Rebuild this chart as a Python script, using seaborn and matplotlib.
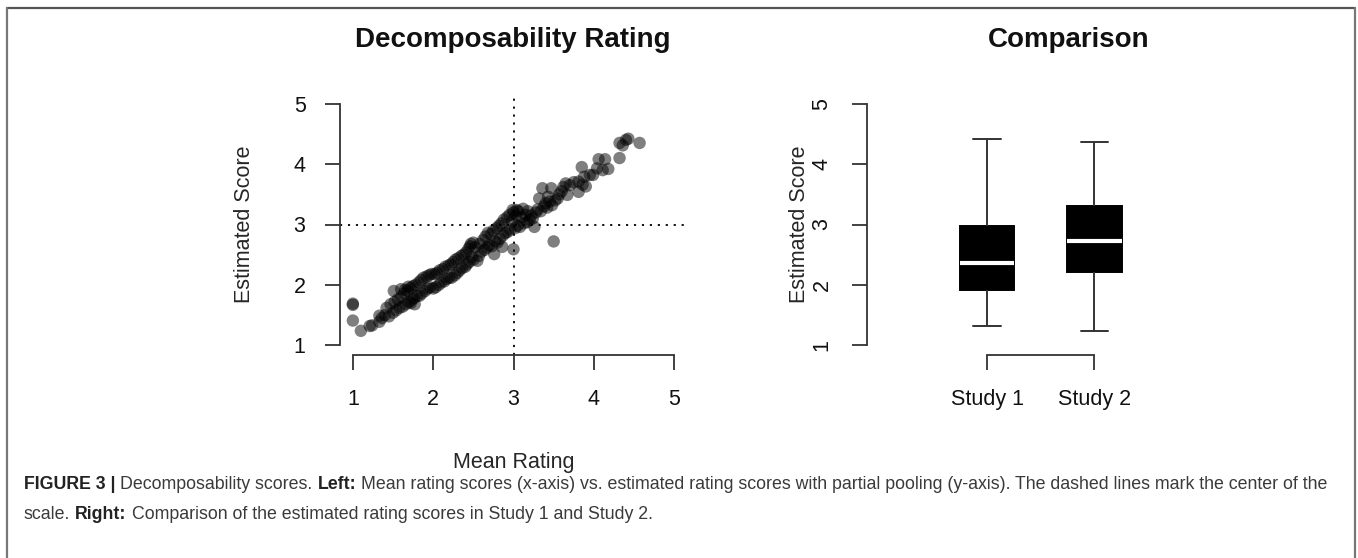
import matplotlib
matplotlib.use("Agg")
import matplotlib.pyplot as plt
from matplotlib.lines import Line2D
import pandas as pd
import seaborn as sns

# Mean rating (x) and partially pooled estimated score (y) per item
mean_rating = [
    1.00, 1.00, 1.00, 1.10, 1.21, 1.24, 1.33, 1.33, 1.36, 1.40,
    1.42, 1.45, 1.47, 1.50, 1.52, 1.54, 1.56, 1.58, 1.60,
    1.51, 1.60, 1.65, 1.69, 1.77, 1.72,
    1.62, 1.64, 1.66, 1.68, 1.70, 1.72, 1.74, 1.75, 1.76, 1.78, 1.80,
    1.82, 1.83, 1.85, 1.86, 1.88, 1.90, 1.92, 1.93, 1.95, 1.96, 1.98, 2.00,
    2.02, 2.03, 2.05, 2.07, 2.08, 2.10, 2.12, 2.14, 2.15, 2.17, 2.19, 2.20,
    2.22, 2.23, 2.25, 2.27, 2.28, 2.30, 2.31, 2.33, 2.35, 2.36, 2.38, 2.40,
    2.41, 2.42, 2.44, 2.45, 2.46, 2.47, 2.48, 2.50, 2.50, 2.52, 2.55, 2.57, 2.58,
    2.60, 2.62, 2.64, 2.65, 2.67, 2.68, 2.70, 2.72, 2.73, 2.75, 2.76, 2.77, 2.79,
    2.80, 2.82, 2.83, 2.85, 2.86, 2.87, 2.88, 2.90, 2.92, 2.93, 2.95, 2.96, 2.98, 3.00, 3.00,
    3.02, 3.03, 3.05, 3.06, 3.08, 3.10, 3.12, 3.13, 3.15, 3.17, 3.18, 3.20, 2.99, 3.04,
    3.22, 3.24, 3.26, 3.28, 3.30, 3.32, 3.34, 3.36, 3.38, 3.40, 3.42, 3.43, 3.45,
    3.47, 3.48, 3.50, 3.52, 3.55, 3.57,
    3.60, 3.62, 3.65, 3.67, 3.70, 3.75, 3.81, 3.81, 3.85, 3.86, 3.88, 3.90, 3.95,
    3.99, 4.04, 4.06, 4.11, 4.14, 4.18, 4.32, 4.32, 4.36, 4.43, 4.40, 4.57,
]
estimated_score = [
    1.69, 1.67, 1.41, 1.24, 1.32, 1.33, 1.39, 1.49, 1.45, 1.50,
    1.62, 1.48, 1.68, 1.54, 1.72, 1.58, 1.76, 1.62, 1.80,
    1.90, 1.93, 1.92, 1.97, 1.68, 1.70,
    1.64, 1.86, 1.68, 1.90, 1.72, 1.95, 1.76, 1.98, 1.78, 2.00, 1.82,
    2.04, 1.82, 2.08, 1.86, 2.12, 1.90, 2.14, 1.94, 2.16, 1.96, 2.18, 1.94,
    2.18, 1.96, 2.20, 2.00, 2.24, 2.04, 2.26, 2.06, 2.30, 2.10, 2.32, 2.12,
    2.34, 2.12, 2.38, 2.16, 2.42, 2.20, 2.44, 2.24, 2.48, 2.28, 2.50, 2.30,
    2.54, 2.34, 2.60, 2.38, 2.64, 2.68, 2.46, 2.70, 2.42, 2.62, 2.40, 2.48, 2.68,
    2.55, 2.74, 2.58, 2.80, 2.62, 2.86, 2.66, 2.84, 2.64, 2.90, 2.51, 2.72, 2.94,
    2.70, 2.98, 2.76, 3.02, 2.63, 2.82, 3.08, 2.86, 3.12, 2.88, 3.16, 2.92, 3.06, 2.59, 3.20,
    2.94, 3.14, 2.98, 3.22, 2.96, 3.12, 3.26, 3.02, 3.16, 3.04, 3.22, 3.08, 3.24, 3.24,
    3.15, 3.10, 2.96, 3.20, 3.25, 3.43, 3.22, 3.60, 3.30, 3.35, 3.28, 3.46, 3.38,
    3.60, 3.32, 2.72, 3.40, 3.43, 3.50,
    3.55, 3.62, 3.68, 3.49, 3.65, 3.70, 3.54, 3.71, 3.95, 3.66, 3.79, 3.63, 3.82,
    3.82, 3.93, 4.08, 3.90, 4.08, 3.92, 4.10, 4.35, 4.31, 4.42, 4.40, 4.35,
]

# Five-number summaries of the estimated scores per study
studies = ["Study 1", "Study 2"]
study1_scores = [1.32, 1.92, 2.36, 2.98, 4.42]
study2_scores = [1.24, 2.21, 2.73, 3.31, 4.37]

axis_ticks = [1, 2, 3, 4, 5]
center = 3

W, H = 1358, 558
sns.set_style("ticks")
plt.rcParams["font.family"] = ["Liberation Sans", "DejaVu Sans"]
plt.rcParams["axes.edgecolor"] = "#333333"
plt.rcParams["axes.linewidth"] = 1.3
plt.rcParams["xtick.color"] = "#333333"
plt.rcParams["ytick.color"] = "#333333"
plt.rcParams["xtick.labelcolor"] = "#111111"
plt.rcParams["ytick.labelcolor"] = "#111111"

fig = plt.figure(figsize=(W / 100, H / 100), dpi=100)


def px_axes(x0, y0, x1, y1):
    return fig.add_axes([x0 / W, 1 - y1 / H, (x1 - x0) / W, (y1 - y0) / H])


LABEL_FS = 15.5
TICK_FS = 15.5

# ---- Left panel: scatter ----
ax1 = px_axes(340, 94, 687, 355)
scatter_df = pd.DataFrame({"mean": mean_rating, "est": estimated_score})
sns.scatterplot(data=scatter_df, x="mean", y="est", ax=ax1, color="black",
                alpha=0.5, s=80, edgecolor="none", linewidth=0)
ax1.axhline(center, color="black", linestyle=(0, (1.2, 3.2)), linewidth=1.3)
ax1.axvline(center, color="black", linestyle=(0, (1.2, 3.2)), linewidth=1.3)
ax1.set_xlim(0.84, 5.16)
ax1.set_ylim(0.84, 5.16)
ax1.set_xticks(axis_ticks)
ax1.set_yticks(axis_ticks)
ax1.set_xticklabels([str(t) for t in axis_ticks], fontsize=TICK_FS)
ax1.set_yticklabels([str(t) for t in axis_ticks], fontsize=TICK_FS)
ax1.tick_params(length=10.8, width=1.3, pad=14)
sns.despine(ax=ax1)
ax1.spines["left"].set_bounds(1, 5)
ax1.spines["bottom"].set_bounds(1, 5)
ax1.set_xlabel("Mean Rating", fontsize=LABEL_FS)
ax1.set_ylabel("Estimated Score", fontsize=LABEL_FS)
ax1.xaxis.set_label_coords(0.5, -0.37)
ax1.yaxis.set_label_coords(-0.245, 0.5)

# ---- Right panel: boxplot ----
ax2 = px_axes(867, 94, 1271, 355)
box_df = pd.DataFrame({
    "study": [studies[0]] * len(study1_scores) + [studies[1]] * len(study2_scores),
    "score": study1_scores + study2_scores,
})
sns.boxplot(data=box_df, x="study", y="score", ax=ax2, width=0.51, whis=1.5,
            color="black", linewidth=1.4, showfliers=False,
            boxprops=dict(facecolor="black", edgecolor="black"),
            medianprops=dict(color="white", linewidth=3.0),
            whiskerprops=dict(color="#333333", linewidth=1.4),
            capprops=dict(color="#333333", linewidth=1.4))
ax2.set_xlim(-1.12, 2.65)
ax2.set_ylim(0.84, 5.16)
ax2.set_yticks(axis_ticks)
ax2.set_yticklabels([str(t) for t in axis_ticks], fontsize=TICK_FS,
                    rotation=90, va="center")
ax2.set_xticks([0, 1])
ax2.set_xticklabels(studies, fontsize=TICK_FS)
ax2.tick_params(length=10.8, width=1.3, pad=14)
sns.despine(ax=ax2)
ax2.spines["left"].set_bounds(1, 5)
ax2.spines["bottom"].set_bounds(0, 1)
ax2.set_xlabel("")
ax2.set_ylabel("Estimated Score", fontsize=LABEL_FS)
ax2.yaxis.set_label_coords(-0.141, 0.5)

# ---- Panel titles ----
fig.text(513 / W, 1 - 40 / H, "Decomposability Rating", fontsize=20,
         fontweight="bold", ha="center", va="center", color="#111111")
fig.text(1069 / W, 1 - 40 / H, "Comparison", fontsize=20,
         fontweight="bold", ha="center", va="center", color="#111111")

# ---- Frame around the figure ----
fig.add_artist(Line2D([7 / W, 1355 / W], [1 - 8 / H, 1 - 8 / H],
                      transform=fig.transFigure, color="#555555", linewidth=1.6))
fig.add_artist(Line2D([7 / W, 7 / W], [0, 1 - 8 / H],
                      transform=fig.transFigure, color="#777777", linewidth=1.6))
fig.add_artist(Line2D([1355 / W, 1355 / W], [0, 1 - 8 / H],
                      transform=fig.transFigure, color="#777777", linewidth=1.6))

# ---- Caption with mixed weights ----
CAP_FS = 12.8
renderer = fig.canvas.get_renderer()
space_px = CAP_FS * 100 / 72 * 0.278


def caption_line(x_px, baseline_px, parts):
    x = x_px
    for text, weight in parts:
        t = fig.text(x / W, 1 - baseline_px / H, text, fontsize=CAP_FS,
                     fontweight=weight, ha="left", va="baseline",
                     color="#222222" if weight == "bold" else "#3a3a3a")
        bb = t.get_window_extent(renderer=renderer)
        x = bb.x1 + space_px


caption_line(24, 489, [
    ("FIGURE 3 |", "bold"),
    ("Decomposability scores.", "normal"),
    ("Left:", "bold"),
    ("Mean rating scores (x-axis) vs. estimated rating scores with partial pooling "
     "(y-axis). The dashed lines mark the center of the", "normal"),
])
caption_line(24, 519, [
    ("scale.", "normal"),
    ("Right:", "bold"),
    ("Comparison of the estimated rating scores in Study 1 and Study 2.", "normal"),
])

fig.savefig("out.png", dpi=100)
